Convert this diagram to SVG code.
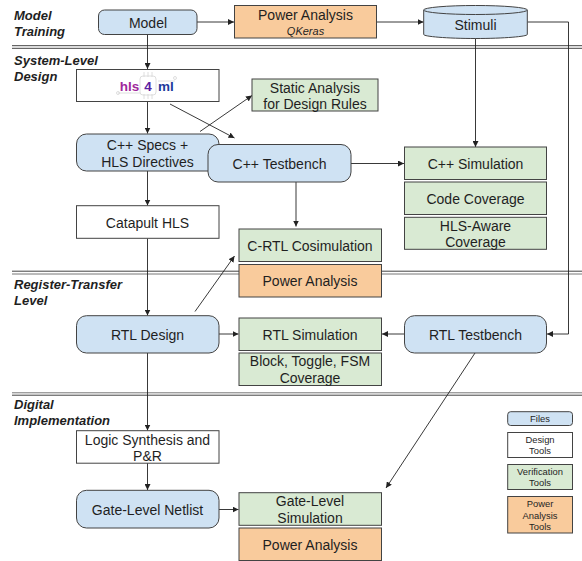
<svg xmlns="http://www.w3.org/2000/svg" width="582" height="561" viewBox="0 0 582 561">
<style>
text{font-family:"Liberation Sans",Arial,sans-serif;font-size:14px;fill:#1f1f1f;text-anchor:middle}
.sec{font-size:13px;font-weight:bold;font-style:italic;text-anchor:start}
.lg{font-size:9.4px}
.box{stroke:#434343;stroke-width:1}
.file{fill:#cfe2f3}.design{fill:#fff}.ver{fill:#d9ead3}.pow{fill:#f9cb9c}
.sep{stroke:#434343;stroke-width:1;fill:none}
.c{stroke:#222;stroke-width:.9;fill:none;marker-end:url(#a)}
.chip{stroke:#d5d5d5;stroke-width:.8;fill:none}
</style>
<defs>
<marker id="a" markerWidth="7" markerHeight="6" refX="6" refY="3" orient="auto" markerUnits="userSpaceOnUse"><path d="M0 0L6 3L0 6Z" fill="#222"/></marker>
</defs>
<rect width="582" height="561" fill="#fff"/>
<g id="separators" class="sep">
<path d="M12 45.7H582M12 48.3H582"/>
<path d="M12 271.2H582"/><path d="M12 274H582" stroke="#777"/>
<path d="M12 392.8H582" stroke="#777"/><path d="M12 395.2H582"/>
</g>
<g id="connectors">
<path class="c" d="M197 22H234"/>
<path class="c" d="M376.7 22H423.5"/>
<path class="c" d="M527.5 22H568.5V334H547"/>
<path class="c" d="M475.5 38V147"/>
<path class="c" d="M147.5 34V69"/>
<path class="c" d="M147.5 101.5V133.5"/>
<path class="c" d="M147.5 171V205.5"/>
<path class="c" d="M147.5 238.5V315.5"/>
<path class="c" d="M147.5 353V430.5"/>
<path class="c" d="M147.5 463V490"/>
<path class="c" d="M200 131.5L252 95.5"/>
<path class="c" d="M170 104L234.5 138"/>
<path class="c" d="M351 163.5H404"/>
<path class="c" d="M296 182V226.5"/>
<path class="c" d="M195 311.5L234.5 256"/>
<path class="c" d="M219 334H238.5"/>
<path class="c" d="M404.5 334H382"/>
<path class="c" d="M475 353L386 488"/>
<path class="c" d="M219 509.5H238.5"/>
</g>
<g id="sections">
<text class="sec" x="14" y="20">Model</text><text class="sec" x="14" y="36">Training</text>
<text class="sec" x="14" y="64.5">System-Level</text><text class="sec" x="14" y="80.5">Design</text>
<text class="sec" x="14" y="289">Register-Transfer</text><text class="sec" x="14" y="304.5">Level</text>
<text class="sec" x="14" y="409">Digital</text><text class="sec" x="14" y="425">Implementation</text>
</g>
<g id="model"><rect class="box file" x="98.5" y="10" width="98.5" height="24.5" rx="6"/><text x="148" y="27.5">Model</text></g>
<g id="power-qkeras"><rect class="box pow" x="234.5" y="5.5" width="142" height="32.5"/><text x="305.5" y="20">Power Analysis</text><text x="305.5" y="34.5" style="font-size:11px;font-style:italic">QKeras</text></g>
<g id="stimuli"><path class="box file" d="M423.7 10V34.5C423.7 36.5 447 38.5 475.5 38.5S527.3 36.5 527.3 34.5V10Z"/><ellipse class="box file" cx="475.5" cy="10" rx="51.8" ry="4.5"/><text x="475.5" y="29.5">Stimuli</text></g>
<g id="hls4ml"><rect class="box design" x="76.5" y="69.5" width="142.5" height="32"/>
<path class="chip" d="M118 93H140M158 81H175M144 72V77M148 72V77M152 72V77M144 94V99M148 94V99M152 94V99"/><rect class="chip" x="140" y="76" width="16" height="19" rx="3"/><circle class="chip" cx="118" cy="93" r="1.5"/><circle class="chip" cx="175" cy="78" r="1.5"/>
<text x="129.5" y="91" style="font-size:13.5px;font-weight:bold;fill:#a0289c">hls</text><text x="148" y="91" style="font-size:13.5px;font-weight:bold;fill:#5b1fa3">4</text><text x="166" y="91" style="font-size:13.5px;font-weight:bold;fill:#1e3a9c">ml</text></g>
<g id="static"><rect class="box ver" x="252" y="79" width="126" height="32"/><text x="315" y="92.5">Static Analysis</text><text x="315" y="109">for Design Rules</text></g>
<g id="specs"><rect class="box file" x="76.5" y="134" width="142.5" height="37" rx="10"/><text x="147.5" y="150">C++ Specs +</text><text x="147.5" y="166.5">HLS Directives</text></g>
<g id="cpp-tb"><rect class="box file" x="208" y="144.5" width="143" height="37.5" rx="10"/><text x="279.5" y="169">C++ Testbench</text></g>
<g id="cpp-sim"><rect class="box ver" x="404.5" y="147" width="142" height="32.5"/><text x="475.5" y="169">C++ Simulation</text></g>
<g id="code-cov"><rect class="box ver" x="404.5" y="182" width="142" height="32.5"/><text x="475.5" y="204">Code Coverage</text></g>
<g id="hls-cov"><rect class="box ver" x="404.5" y="217.3" width="142" height="32"/><text x="475.5" y="230.5">HLS-Aware</text><text x="475.5" y="247">Coverage</text></g>
<g id="catapult"><rect class="box design" x="76.5" y="205.7" width="142.5" height="32.6"/><text x="147.5" y="227.5">Catapult HLS</text></g>
<g id="cosim"><rect class="box ver" x="239" y="229" width="142.5" height="32.5"/><text x="310" y="250.5">C-RTL Cosimulation</text></g>
<g id="power-rtl"><rect class="box pow" x="239" y="264.5" width="142.5" height="32.5"/><text x="310" y="286">Power Analysis</text></g>
<g id="rtl-design"><rect class="box file" x="76.5" y="315.7" width="142.5" height="37.3" rx="10"/><text x="147.5" y="339.5">RTL Design</text></g>
<g id="rtl-sim"><rect class="box ver" x="239" y="318" width="142.5" height="32.5"/><text x="310" y="339.5">RTL Simulation</text></g>
<g id="rtl-cov"><rect class="box ver" x="239" y="353" width="142.5" height="32.5"/><text x="310" y="366">Block, Toggle, FSM</text><text x="310" y="382.5">Coverage</text></g>
<g id="rtl-tb"><rect class="box file" x="404.5" y="315.7" width="142" height="37.3" rx="10"/><text x="475.5" y="339.5">RTL Testbench</text></g>
<g id="logic"><rect class="box design" x="76.5" y="430.7" width="142.5" height="32.5"/><text x="147.5" y="444.5">Logic Synthesis and</text><text x="147.5" y="461">P&amp;R</text></g>
<g id="netlist"><rect class="box file" x="76.5" y="490.3" width="142.5" height="37.7" rx="10"/><text x="147.5" y="514.5">Gate-Level Netlist</text></g>
<g id="gate-sim"><rect class="box ver" x="239" y="492.7" width="142.5" height="32.6"/><text x="310" y="506">Gate-Level</text><text x="310" y="523">Simulation</text></g>
<g id="power-gate"><rect class="box pow" x="239" y="528" width="142.5" height="32.5"/><text x="310" y="550">Power Analysis</text></g>
<g id="legend-files"><rect class="box file" x="507.7" y="411.7" width="64.8" height="13.8" rx="3"/><text class="lg" x="540" y="422">Files</text></g>
<g id="legend-design"><rect class="box design" x="507.7" y="432.5" width="64.8" height="25"/><text class="lg" x="540" y="443">Design</text><text class="lg" x="540" y="454">Tools</text></g>
<g id="legend-ver"><rect class="box ver" x="507.7" y="464.5" width="64.8" height="25"/><text class="lg" x="540" y="475">Verification</text><text class="lg" x="540" y="486">Tools</text></g>
<g id="legend-power"><rect class="box pow" x="507.7" y="496.5" width="64.8" height="36.5"/><text class="lg" x="540" y="507">Power</text><text class="lg" x="540" y="518.5">Analysis</text><text class="lg" x="540" y="530">Tools</text></g>
</svg>
